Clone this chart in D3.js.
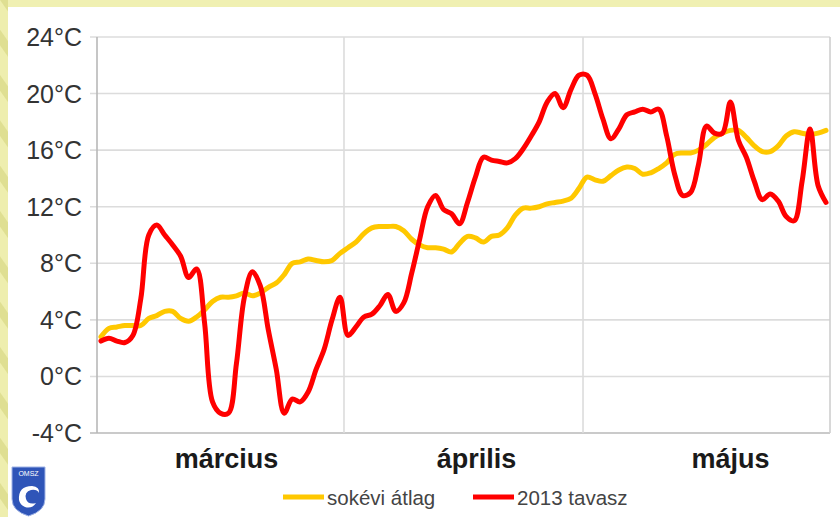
<!DOCTYPE html>
<html><head><meta charset="utf-8">
<script src="https://cdn.jsdelivr.net/npm/d3@7"></script>
<style>html,body{margin:0;padding:0;background:#fff;} svg{display:block;}</style>
</head><body><svg id="c" width="840" height="517"></svg>
<script>
// ---- data ----
const months = ["március", "április", "május"];
const monthDays = [31, 30, 31];
const yTicks = [-4, 0, 4, 8, 12, 16, 20, 24];
const seriesNames = ["sokévi átlag", "2013 tavasz"];
const seriesColors = ["#ffc800", "#ff0000"];
// long-term average (daily, 1 Mar – 31 May)
const avgTemp = [
  2.8, 3.4, 3.5, 3.6, 3.6, 3.6, 4.1, 4.3, 4.6, 4.6,
  4.1, 3.9, 4.2, 4.7, 5.3, 5.6, 5.6, 5.7, 5.9, 5.7,
  5.9, 6.3, 6.6, 7.2, 8.0, 8.1, 8.3, 8.2, 8.1, 8.2,
  8.7, 9.1, 9.5, 10.1, 10.5, 10.6, 10.6, 10.6, 10.3, 9.7,
  9.3, 9.1, 9.1, 9.0, 8.8, 9.4, 9.9, 9.8, 9.5, 9.9,
  10.0, 10.5, 11.4, 11.9, 11.9, 12.0, 12.2, 12.3, 12.4, 12.6,
  13.3, 14.1, 13.9, 13.8, 14.2, 14.6, 14.8, 14.7, 14.3, 14.4,
  14.7, 15.1, 15.7, 15.8, 15.8, 16.0, 16.4, 16.9, 17.2, 17.4,
  17.4, 16.9, 16.3, 15.9, 15.9, 16.3, 17.0, 17.3, 17.2, 17.1,
  17.2, 17.4
];
// spring 2013 (daily)
const temp2013 = [
  2.5, 2.7, 2.5, 2.4, 2.9, 5.5, 10.0, 10.7, 10.0, 9.3,
  8.5, 7.0, 7.6, 3.8, -1.8, -2.6, -2.6, 0.9, 5.6, 7.4,
  6.4, 3.3, 0.5, -2.6, -1.6, -1.8, -1.1, 0.5, 1.9, 4.0,
  5.6, 2.9, 3.5, 4.2, 4.4, 5.0, 5.8, 4.6, 5.2, 7.3,
  9.7, 12.0, 12.8, 11.8, 11.5, 10.8, 12.3, 14.1, 15.5, 15.3,
  15.2, 15.1, 15.4, 16.1, 17.0, 18.0, 19.4, 20.0, 19.0, 20.3,
  21.3, 21.3, 20.0, 18.2, 16.8, 17.5, 18.5, 18.7, 18.9, 18.7,
  18.9, 17.0, 14.3, 12.8, 13.0, 15.0, 17.7, 17.2, 17.2, 19.4,
  16.7, 15.5, 13.8, 12.5, 12.9, 12.4, 11.3, 11.0, 13.8, 17.5,
  13.5, 12.3
];

// ---- layout ----
const svg = d3.select("#c");
const W = 840, H = 517;
const m = {left: 97, right: 830, top: 37, bottom: 433};

// background
const defs = svg.append("defs");
const pat = defs.append("pattern").attr("id", "stripes").attr("patternUnits", "userSpaceOnUse")
  .attr("width", 26).attr("height", 26).attr("patternTransform", "rotate(-35)");
pat.append("rect").attr("width", 26).attr("height", 26).attr("fill", "#eeeeae");
pat.append("rect").attr("width", 9).attr("height", 26).attr("fill", "#dfdf92");
svg.append("rect").attr("width", W).attr("height", H).attr("fill", "#f0f0b2");
svg.append("rect").attr("width", 8).attr("height", H).attr("fill", "url(#stripes)");
svg.append("rect").attr("x", 8).attr("y", 7).attr("width", W - 8).attr("height", H - 7).attr("fill", "#ffffff");

const days = d3.range(avgTemp.length);
const x = d3.scaleBand().domain(days).range([m.left, m.right]).paddingInner(0).paddingOuter(0);
const xc = i => x(i) + x.bandwidth() / 2;
const y = d3.scaleLinear().domain([-4, 24]).range([m.bottom, m.top]);

// horizontal grid + ticks
const gy = svg.append("g");
gy.selectAll("line.grid").data(yTicks).join("line")
  .attr("x1", m.left - 7).attr("x2", m.right)
  .attr("y1", d => y(d)).attr("y2", d => y(d))
  .attr("stroke", d => d === -4 ? "#b8b8b8" : "#dcdcdc").attr("stroke-width", 1.6);

// month boundaries
const starts = [0];
monthDays.forEach((d, i) => starts.push(starts[i] + d));
const bounds = starts.slice(1, -1);
svg.append("g").selectAll("line").data(bounds).join("line")
  .attr("x1", d => x(d)).attr("x2", d => x(d))
  .attr("y1", m.top).attr("y2", m.bottom)
  .attr("stroke", "#dcdcdc").attr("stroke-width", 1.6);

// axes lines
svg.append("line").attr("x1", m.left).attr("x2", m.left).attr("y1", m.top).attr("y2", m.bottom)
  .attr("stroke", "#b8b8b8").attr("stroke-width", 1.6);
svg.append("line").attr("x1", m.right).attr("x2", m.right).attr("y1", m.top).attr("y2", m.bottom)
  .attr("stroke", "#cfcfcf").attr("stroke-width", 1.6);

// y tick labels
svg.append("g").selectAll("text").data(yTicks).join("text")
  .attr("x", 82).attr("y", d => y(d)).attr("dy", "0.36em")
  .attr("text-anchor", "end")
  .attr("font-family", "Liberation Sans, Arial, sans-serif")
  .attr("font-size", 25).attr("fill", "#333")
  .text(d => d + "°C");

// month labels
const labelShift = [6, 13, 24];
svg.append("g").selectAll("text").data(months).join("text")
  .attr("x", (d, i) => (x(starts[i]) + (starts[i + 1] < days.length ? x(starts[i + 1]) : m.right)) / 2 + labelShift[i])
  .attr("y", 468)
  .attr("text-anchor", "middle")
  .attr("font-family", "Liberation Sans, Arial, sans-serif")
  .attr("font-weight", "bold").attr("font-size", 27).attr("fill", "#1a1a1a")
  .text(d => d);

// lines
const line = d3.line().x((d, i) => xc(i)).y(d => y(d)).curve(d3.curveCatmullRom.alpha(0.5));
[avgTemp, temp2013].forEach((s, k) => {
  svg.append("path").datum(s).attr("d", line)
    .attr("fill", "none").attr("stroke", seriesColors[k]).attr("stroke-width", 5)
    .attr("stroke-linejoin", "round").attr("stroke-linecap", "round");
});

// legend
const leg = svg.append("g");
const legX = [283, 473];
seriesNames.forEach((n, k) => {
  leg.append("line").attr("x1", legX[k]).attr("x2", legX[k] + 41).attr("y1", 497).attr("y2", 497)
    .attr("stroke", seriesColors[k]).attr("stroke-width", 5);
  leg.append("text").attr("x", legX[k] + 44).attr("y", 505)
    .attr("font-family", "Liberation Sans, Arial, sans-serif")
    .attr("font-size", 20.5).attr("fill", "#444").text(n);
});

// logo
const logo = svg.append("g");
logo.append("path").attr("d", "M12,467 L45,467 L45,499 Q45,511 28.5,516 Q12,511 12,499 Z")
  .attr("fill", "#2f55b8").attr("stroke", "#9fb3e6").attr("stroke-width", 1);
logo.append("text").attr("x", 28.5).attr("y", 476).attr("text-anchor", "middle")
  .attr("font-family", "Liberation Sans, Arial, sans-serif").attr("font-size", 7).attr("fill", "#fff").text("OMSZ");
logo.append("path").attr("d", "M19,500 Q18,486 32,486 Q40,487 39,493 Q37,489 31,490 Q24,492 26,499 Q28,505 36,503 Q32,509 25,507 Q20,505 19,500 Z")
  .attr("fill", "#fff");
</script>
</body></html>
